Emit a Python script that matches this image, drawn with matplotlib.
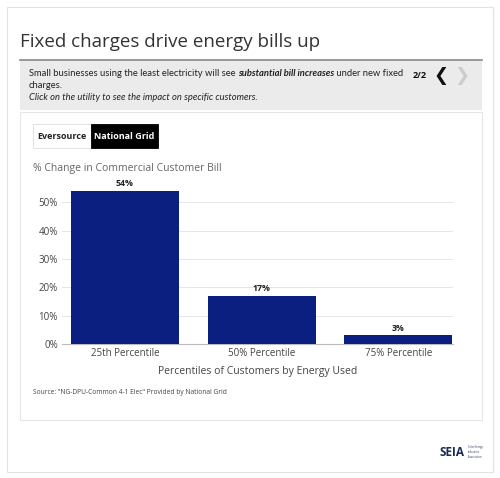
import matplotlib
matplotlib.use("Agg")
import matplotlib.pyplot as plt
from matplotlib.patches import Rectangle

categories = ["25th Percentile", "50% Percentile", "75% Percentile"]
values = [54, 17, 3]
labels = ["54%", "17%", "3%"]
yticks = [0, 10, 20, 30, 40, 50]

W, H = 500, 478
fig = plt.figure(figsize=(5, 4.78), dpi=100)
plt.rcParams['font.family'] = ['Open Sans', 'DejaVu Sans']

def px(x, y):
    return x / W, 1 - y / H

def rect(x0, y0, x1, y1, **kw):
    fig.patches.append(Rectangle((x0 / W, 1 - y1 / H), (x1 - x0) / W, (y1 - y0) / H,
                                 transform=fig.transFigure, **kw))

rect(7, 7, 493, 472, fill=False, ec="#e2e2e2", lw=0.8)
rect(20, 112, 482, 420, fill=False, ec="#e6e6e6", lw=0.8)
rect(20, 60, 482, 110, fc="#ebebeb", ec="none")
fig.add_artist(plt.Line2D([20 / W, 482 / W], [1 - 60 / H] * 2, color="#888888", lw=1.2))

fig.text(*px(20, 42), "Fixed charges drive energy bills up", fontsize=13.5, color="#333333", va="center")

FS = 6.75
renderer = fig.canvas.get_renderer()
segs = [("Small businesses using the least electricity will see ", {}),
        ("substantial bill increases", {"weight": "bold", "style": "italic"}),
        (" under new fixed", {})]
xcur = 29
for s, kw in segs:
    t = fig.text(*px(xcur, 73), s, fontsize=FS, color="#222222", va="center", family=["Lato", "DejaVu Sans"], **kw)
    bb = t.get_window_extent(renderer)
    xcur += bb.width
fig.text(*px(29, 85), "charges.", fontsize=FS, color="#222222", va="center", family=["Lato", "DejaVu Sans"])
fig.text(*px(29, 97), "Click on the utility to see the impact on specific customers.", fontsize=FS, color="#222222",
         va="center", style="italic", family=["Lato", "DejaVu Sans"])
fig.text(*px(413, 75), "2/2", fontsize=6.5, weight="bold", color="#111111", va="center")
fig.text(*px(441, 76), "❮", fontsize=13, weight="bold", color="#111111", va="center", ha="center", family=["DejaVu Sans"])
fig.text(*px(462, 76), "❯", fontsize=13, weight="bold", color="#cccccc", va="center", ha="center", family=["DejaVu Sans"])

rect(33, 124, 91, 148, fc="white", ec="#dddddd", lw=0.6)
rect(91, 124, 158, 148, fc="black", ec="black", lw=0.6)
fig.text(*px(62, 136), "Eversource", fontsize=6.5, weight="bold", color="#222222", va="center", ha="center")
fig.text(*px(124.5, 136), "National Grid", fontsize=6.5, weight="bold", color="white", va="center", ha="center")

fig.text(*px(33, 168), "% Change in Commercial Customer Bill", fontsize=7.5, color="#666666", va="center")

ax = fig.add_axes([62 / W, 1 - 344 / H, (453 - 62) / W, (344 - 188) / H])
x = range(len(categories))
ax.bar(x, values, width=0.79, color="#0a1f7f", zorder=3)
for xi, v, l in zip(x, values, labels):
    ax.text(xi, v + 1, l, ha="center", va="bottom", fontsize=6.3, weight="bold", color="#222222")
ax.set_xlim(-0.46, 2.40)
ax.set_ylim(0, 55)
ax.set_yticks(yticks)
ax.set_yticklabels([f"{t}%" for t in yticks], fontsize=7, color="#444444")
ax.set_xticks(list(x))
ax.set_xticklabels(categories, fontsize=7, color="#444444")
ax.grid(axis="y", color="#e6e6e6", lw=0.7, zorder=0)
for s in ["top", "right", "left"]:
    ax.spines[s].set_visible(False)
ax.spines["bottom"].set_color("#bbbbbb")
ax.tick_params(length=0, pad=3)
ax.set_xlabel("Percentiles of Customers by Energy Used", fontsize=7.5, color="#444444", labelpad=5)

fig.text(*px(33, 393), "Source: \"NG-DPU-Common 4-1 Elec\" Provided by National Grid", fontsize=4.8, color="#444444", va="center")

fig.text(*px(440, 452), "SEIA", fontsize=8.5, weight="bold", color="#1a2a5a", va="center")
fig.text(*px(468, 452), "Solar Energy\nIndustries\nAssociation", fontsize=1.8, color="#1a2a5a", va="center")

fig.savefig("out.png", dpi=100)
